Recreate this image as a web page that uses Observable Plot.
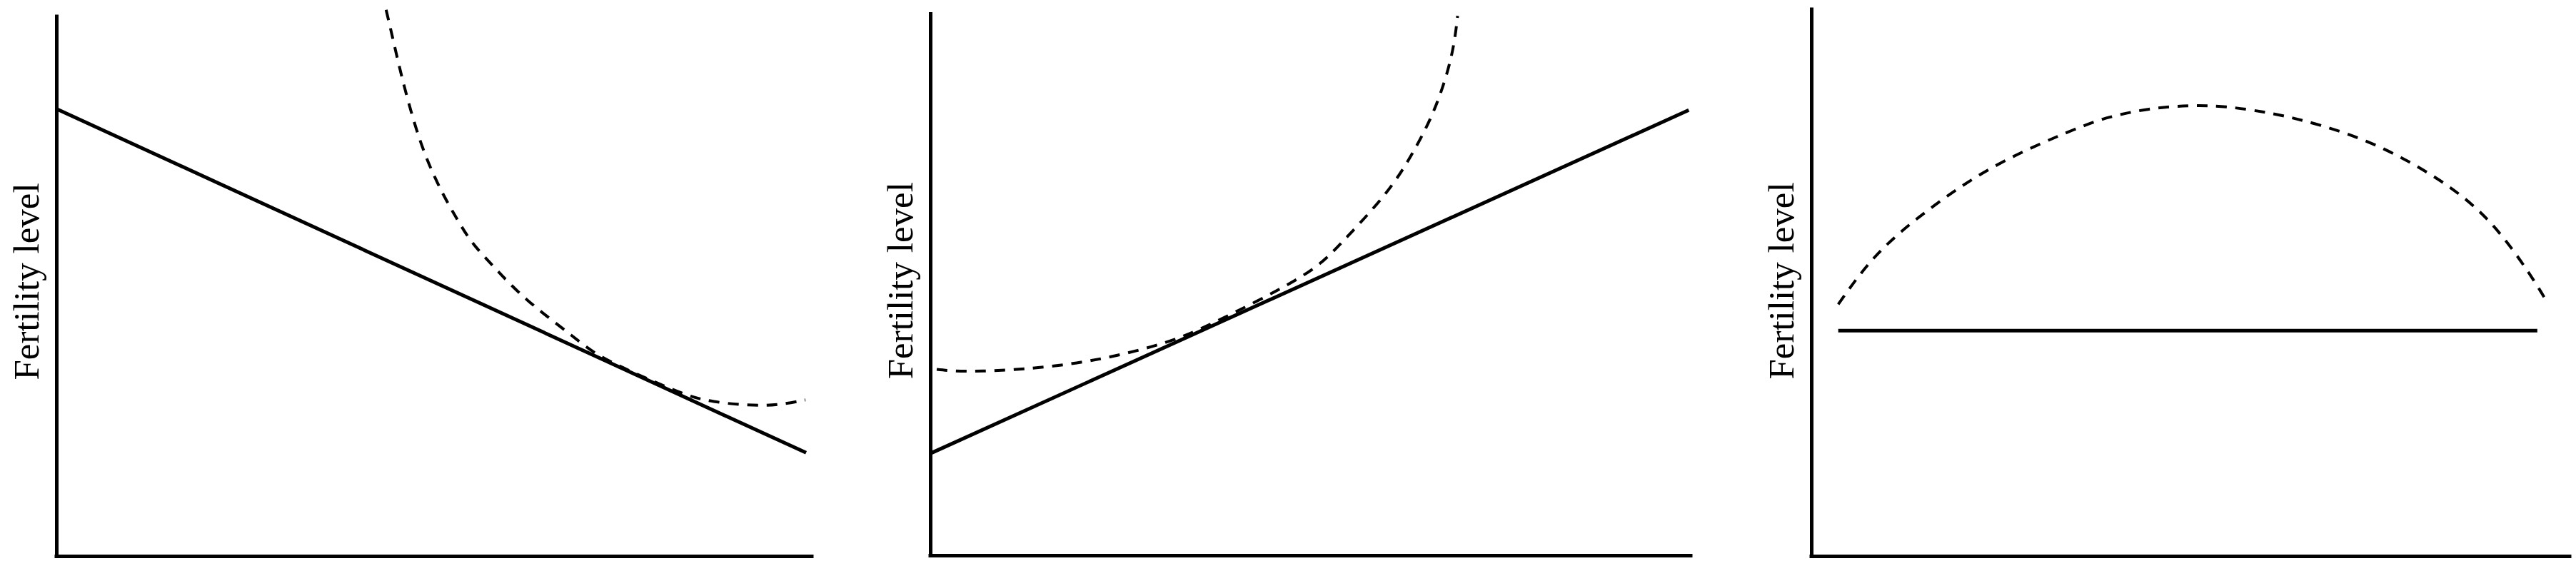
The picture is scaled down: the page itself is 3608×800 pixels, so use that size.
<!DOCTYPE html>
<html>
<head>
<meta charset="utf-8">
<script src="https://cdn.jsdelivr.net/npm/d3@7"></script>
<script src="https://cdn.jsdelivr.net/npm/@observablehq/plot@0.6"></script>
<style>
  html, body { margin: 0; padding: 0; background: #fff; }
  #wrap { position: relative; width: 3608px; height: 800px; background: #fff; overflow: hidden; }
</style>
</head>
<body>
<div id="wrap"></div>
<script>
// ---- Data (abstract units, axes run 0..100) ----
const yLabel = "Fertility level";

// Panel 1: declining solid line, dashed convex curve tangent to it
const p1SolidX = [0, 99.2];
const p1SolidY = [82.9, 19.2];
const p1DashX = [43.6, 44.4, 45.4, 46.6, 48.0, 49.5, 51.2, 53.0, 55.0, 57.9, 62.3, 68.1, 72.1, 77.6, 82.7, 87.0, 93.6, 99.1];
const p1DashY = [101.3, 96.5, 90.5, 84.0, 77.5, 72.0, 67.0, 62.5, 58.2, 53.6, 47.5, 41.0, 37.0, 33.3, 30.3, 28.7, 28.0, 29.0];

// Panel 2: rising solid line, dashed convex curve tangent to it
const p2SolidX = [0, 99.7];
const p2SolidY = [18.9, 82.3];
const p2DashX = [0.8, 6.9, 19.2, 30.0, 37.3, 48.1, 53.9, 59.6, 63.3, 66.2, 68.4, 69.3];
const p2DashY = [34.4, 34.1, 35.6, 39.0, 43.1, 51.0, 57.6, 66.5, 74.2, 82.3, 91.8, 99.7];

// Panel 3: flat solid line, dashed arch
const p3SolidX = [3.5, 95.7];
const p3SolidY = [41.3, 41.3];
const p3DashX = [3.5, 8.9, 16.3, 25.0, 34.5, 39.5, 44.5, 49.7, 54.7, 59.9, 65.1, 73.2, 81.9, 89.2, 94.6, 97.1];
const p3DashY = [46.1, 55.6, 64.3, 72.0, 78.0, 80.4, 81.8, 82.4, 82.2, 81.2, 79.6, 75.9, 69.6, 61.5, 51.8, 46.2];

// ---- Build ----
const zip = (xs, ys) => xs.map((x, i) => ({x, y: ys[i]}));

const panels = [
  {left: 0, width: 1150, margins: {marginLeft: 79, marginRight: 13, marginTop: 23, marginBottom: 21}, dy: -7,
   solid: zip(p1SolidX, p1SolidY), dash: zip(p1DashX, p1DashY)},
  {left: 1150, width: 1250, margins: {marginLeft: 153, marginRight: 32, marginTop: 19.5, marginBottom: 22}, dy: -6,
   solid: zip(p2SolidX, p2SolidY), dash: zip(p2DashX, p2DashY)},
  {left: 2400, width: 1208, margins: {marginLeft: 137, marginRight: 9, marginTop: 13, marginBottom: 21}, dy: -3,
   solid: zip(p3SolidX, p3SolidY), dash: zip(p3DashX, p3DashY)}
];

const wrap = document.getElementById("wrap");
for (const p of panels) {
  const chart = Plot.plot({
    width: p.width,
    height: 800,
    ...p.margins,
    x: {domain: [0, 100], axis: null},
    y: {domain: [0, 100], axis: null},
    style: {background: "transparent", overflow: "visible"},
    marks: [
      Plot.ruleX([0], {stroke: "black", strokeWidth: 5, strokeLinecap: "square"}),
      Plot.ruleY([0], {stroke: "black", strokeWidth: 5, strokeLinecap: "square"}),
      Plot.line(p.solid, {x: "x", y: "y", stroke: "black", strokeWidth: 5, strokeLinecap: "butt"}),
      Plot.line(p.dash, {x: "x", y: "y", curve: "natural", stroke: "black", strokeWidth: 4,
        strokeDasharray: "15,12", strokeLinecap: "butt"}),
      Plot.text([yLabel], {text: d => d, frameAnchor: "left", rotate: -90, textAnchor: "middle",
        lineAnchor: "bottom", dx: -26, dy: p.dy, fontFamily: "Liberation Serif", fontSize: 51, fill: "black"})
    ]
  });
  chart.style.left = p.left + "px";
  chart.style.position = "absolute";
  chart.style.top = "0px";
  wrap.appendChild(chart);
}
</script>
</body>
</html>
